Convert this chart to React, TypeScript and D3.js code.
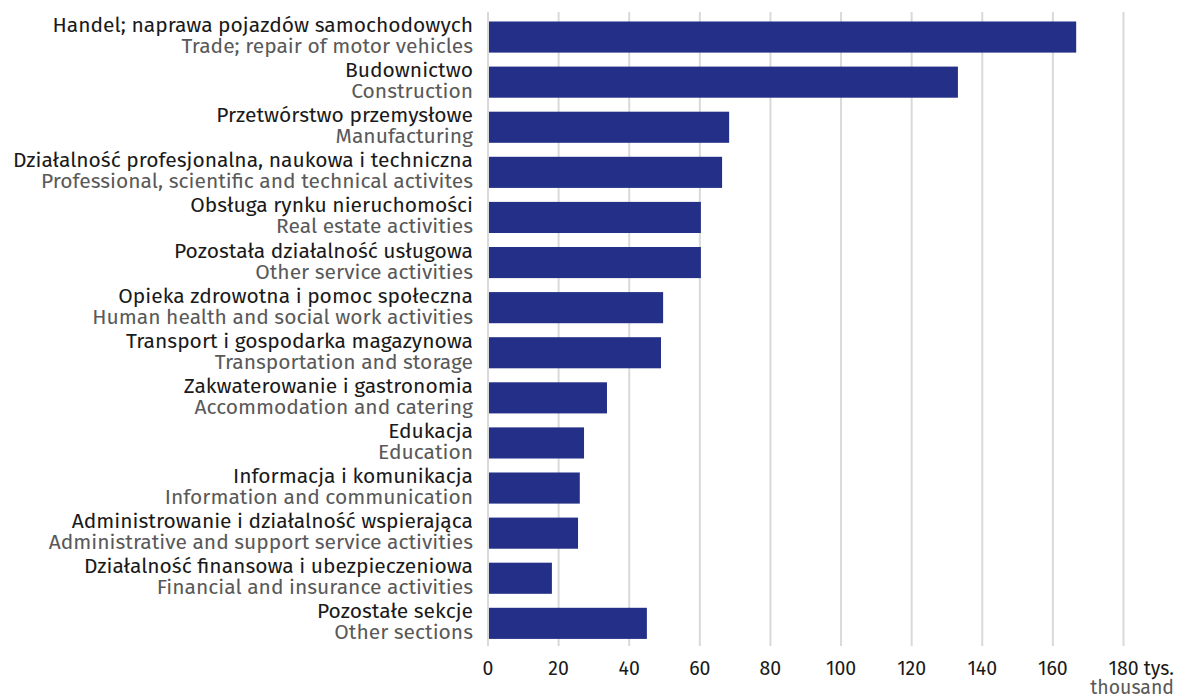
import React from "react";
import * as d3 from "d3";

const labelsPl = [
  "Handel; naprawa pojazdów samochodowych",
  "Budownictwo",
  "Przetwórstwo przemysłowe",
  "Działalność profesjonalna, naukowa i techniczna",
  "Obsługa rynku nieruchomości",
  "Pozostała działalność usługowa",
  "Opieka zdrowotna i pomoc społeczna",
  "Transport i gospodarka magazynowa",
  "Zakwaterowanie i gastronomia",
  "Edukacja",
  "Informacja i komunikacja",
  "Administrowanie i działalność wspierająca",
  "Działalność finansowa i ubezpieczeniowa",
  "Pozostałe sekcje",
];
const labelsEn = [
  "Trade; repair of motor vehicles",
  "Construction",
  "Manufacturing",
  "Professional, scientific and technical activites",
  "Real estate activities",
  "Other service activities",
  "Human health and social work activities",
  "Transportation and storage",
  "Accommodation and catering",
  "Education",
  "Information and communication",
  "Administrative and support service activities",
  "Financial and insurance activities",
  "Other sections",
];
const values = [166.6, 133.1, 68.3, 66.3, 60.3, 60.3, 49.6, 49.0, 33.7, 27.2, 26.0, 25.5, 18.1, 45.0];
const ticks = [0, 20, 40, 60, 80, 100, 120, 140, 160, 180];

const W = 1177;
const H = 698;
const FONT = "'Fira Sans', 'Open Sans', sans-serif";

export default function App() {
  const x = d3.scaleLinear().domain([0, 180]).range([488, 1123.5]);
  const idx = d3.range(values.length);
  const y = d3
    .scaleBand<number>()
    .domain(idx)
    .range([14.5, 14.5 + 14 * 45.1])
    .paddingInner(0.31)
    .paddingOuter(0.155);
  const bw = y.bandwidth();
  return (
    <svg
      width={W}
      height={H}
      style={{ position: "absolute", left: 0, top: 0, background: "#fff" }}
      fontFamily={FONT}
    >
      {ticks.map((t) => (
        <line key={"g" + t} x1={x(t)} x2={x(t)} y1={12} y2={646} stroke="#d9d9d9" strokeWidth={2} />
      ))}
      {idx.map((i) => (
        <rect key={"b" + i} x={x(0) + 1} y={y(i)} width={x(values[i]) - x(0) - 1} height={bw} fill="#243087" />
      ))}
      {idx.map((i) => {
        const c = (y(i) as number) + bw / 2;
        return (
          <g key={"l" + i} textAnchor="end" fontSize={21}>
            <text x={473} y={c - 5} fill="#1a1a1a">
              {labelsPl[i]}
            </text>
            <text x={473} y={c + 16} fill="#595959">
              {labelsEn[i]}
            </text>
          </g>
        );
      })}
      {ticks.map((t) =>
        t === 180 ? (
          <g key={"t" + t} fontSize={19.5}>
            <text x={x(t)} y={675} textAnchor="middle" fill="#1a1a1a">
              {t}
            </text>
            <text x={x(t) + 50.5} y={675} textAnchor="end" fill="#1a1a1a">
              tys.
            </text>
            <text x={x(t) + 50.5} y={694} textAnchor="end" fill="#595959">
              thousand
            </text>
          </g>
        ) : (
          <text key={"t" + t} x={x(t)} y={675} textAnchor="middle" fontSize={19.5} fill="#1a1a1a">
            {t}
          </text>
        )
      )}
    </svg>
  );
}
